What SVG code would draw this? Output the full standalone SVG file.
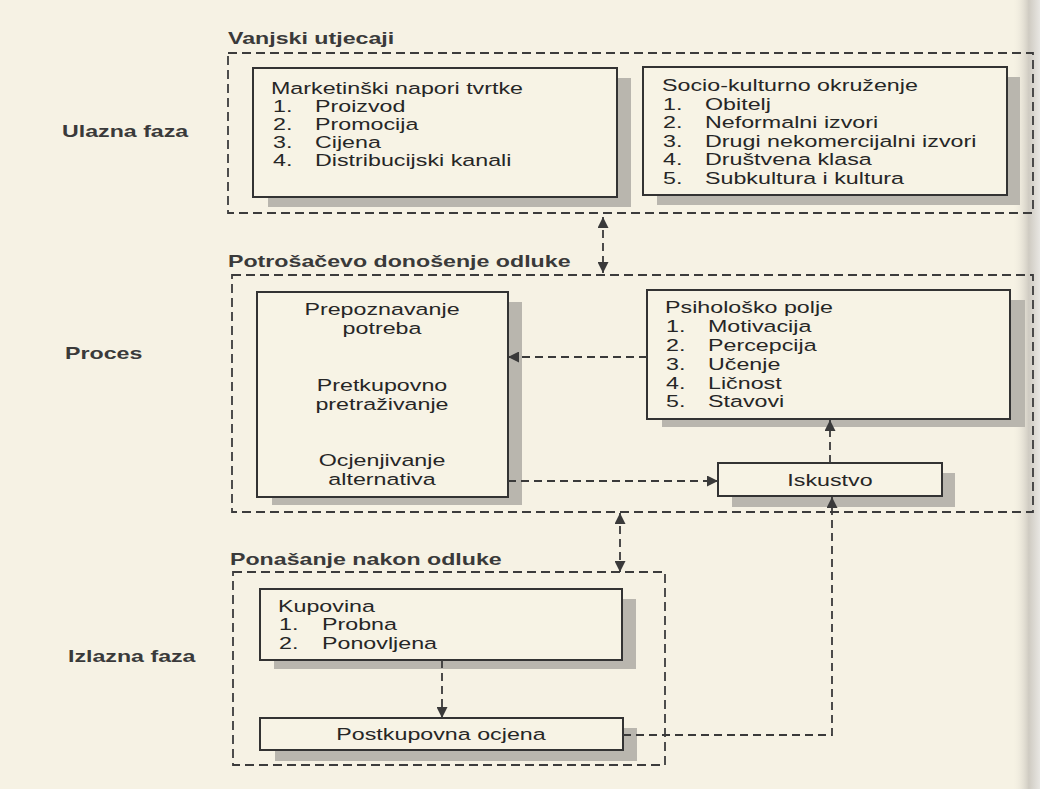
<svg xmlns="http://www.w3.org/2000/svg" width="1040" height="789" viewBox="0 0 1040 789">
<defs>
<linearGradient id="bind" x1="0" y1="0" x2="1" y2="0">
<stop offset="0" stop-color="#f6f2e4" stop-opacity="0"/>
<stop offset="0.6" stop-color="#cfcbc2"/>
<stop offset="1" stop-color="#e8e6e2"/>
</linearGradient>
<marker id="ah" viewBox="0 0 10 10" refX="10" refY="5" markerWidth="11" markerHeight="11" markerUnits="userSpaceOnUse" orient="auto-start-reverse">
<path d="M0,0 L10,5 L0,10 Z" fill="#3a3a3a"/>
</marker>
<style>
.grp{fill:none;stroke:#3c3c3c;stroke-width:1.8;stroke-dasharray:9 5}
.box{fill:#f7f3e5;stroke:#333;stroke-width:2}
.sh{fill:#b9b6ae}
.t{font-family:"Liberation Sans",Arial,sans-serif;font-size:16.5px;fill:#262626}
.b{font-family:"Liberation Sans",Arial,sans-serif;font-size:16px;font-weight:bold;fill:#3a3a3a}
.con{fill:none;stroke:#3a3a3a;stroke-width:1.8;stroke-dasharray:8 5}
</style>
</defs>
<rect x="0" y="0" width="1040" height="789" fill="#f6f2e4"/>
<rect x="1012" y="0" width="28" height="789" fill="url(#bind)"/>

<g id="phase-labels">
<g transform="translate(62 137) scale(1.45 1)"><text class="b" x="0" y="0">Ulazna faza</text></g>
<g transform="translate(65 359) scale(1.45 1)"><text class="b" x="0" y="0">Proces</text></g>
<g transform="translate(68 662) scale(1.45 1)"><text class="b" x="0" y="0">Izlazna faza</text></g>
</g>

<g id="grp-vanjski">
<rect class="grp" x="228" y="53" width="805" height="160"/>
<g transform="translate(228 44) scale(1.45 1)"><text class="b" x="0" y="0">Vanjski utjecaji</text></g>
</g>

<g id="node-marketing">
<rect class="sh" x="268" y="78" width="363" height="129"/>
<rect class="box" x="253" y="68" width="364" height="129"/>
<g transform="translate(271 94) scale(1.41 1)"><text class="t" x="0" y="0">Marketinški napori tvrtke</text></g>
<g transform="translate(273 112) scale(1.41 1)"><text class="t" x="0" y="0">1.</text></g>
<g transform="translate(315 112) scale(1.41 1)"><text class="t" x="0" y="0">Proizvod</text></g>
<g transform="translate(273 130) scale(1.41 1)"><text class="t" x="0" y="0">2.</text></g>
<g transform="translate(315 130) scale(1.41 1)"><text class="t" x="0" y="0">Promocija</text></g>
<g transform="translate(273 148) scale(1.41 1)"><text class="t" x="0" y="0">3.</text></g>
<g transform="translate(315 148) scale(1.41 1)"><text class="t" x="0" y="0">Cijena</text></g>
<g transform="translate(273 166) scale(1.41 1)"><text class="t" x="0" y="0">4.</text></g>
<g transform="translate(315 166) scale(1.41 1)"><text class="t" x="0" y="0">Distribucijski kanali</text></g>
</g>

<g id="node-socio">
<rect class="sh" x="657" y="77" width="363" height="128"/>
<rect class="box" x="643" y="67" width="364" height="128"/>
<g transform="translate(662 91) scale(1.41 1)"><text class="t" x="0" y="0">Socio-kulturno okruženje</text></g>
<g transform="translate(663 110) scale(1.41 1)"><text class="t" x="0" y="0">1.</text></g>
<g transform="translate(705 110) scale(1.41 1)"><text class="t" x="0" y="0">Obitelj</text></g>
<g transform="translate(663 128) scale(1.41 1)"><text class="t" x="0" y="0">2.</text></g>
<g transform="translate(705 128) scale(1.41 1)"><text class="t" x="0" y="0">Neformalni izvori</text></g>
<g transform="translate(663 147) scale(1.41 1)"><text class="t" x="0" y="0">3.</text></g>
<g transform="translate(705 147) scale(1.41 1)"><text class="t" x="0" y="0">Drugi nekomercijalni izvori</text></g>
<g transform="translate(663 165) scale(1.41 1)"><text class="t" x="0" y="0">4.</text></g>
<g transform="translate(705 165) scale(1.41 1)"><text class="t" x="0" y="0">Društvena klasa</text></g>
<g transform="translate(663 184) scale(1.41 1)"><text class="t" x="0" y="0">5.</text></g>
<g transform="translate(705 184) scale(1.41 1)"><text class="t" x="0" y="0">Subkultura i kultura</text></g>
</g>

<g id="grp-proces">
<rect class="grp" x="232" y="275" width="801" height="237"/>
<g transform="translate(228 267) scale(1.45 1)"><text class="b" x="0" y="0">Potrošačevo donošenje odluke</text></g>
</g>

<g id="node-odluka">
<rect class="sh" x="272" y="302" width="250" height="203"/>
<rect class="box" x="257" y="292" width="251" height="205"/>
<g transform="translate(382 315) scale(1.41 1)"><text class="t" x="0" y="0" text-anchor="middle">Prepoznavanje</text></g>
<g transform="translate(382 334) scale(1.41 1)"><text class="t" x="0" y="0" text-anchor="middle">potreba</text></g>
<g transform="translate(382 391) scale(1.41 1)"><text class="t" x="0" y="0" text-anchor="middle">Pretkupovno</text></g>
<g transform="translate(382 410) scale(1.41 1)"><text class="t" x="0" y="0" text-anchor="middle">pretraživanje</text></g>
<g transform="translate(382 466) scale(1.41 1)"><text class="t" x="0" y="0" text-anchor="middle">Ocjenjivanje</text></g>
<g transform="translate(382 485) scale(1.41 1)"><text class="t" x="0" y="0" text-anchor="middle">alternativa</text></g>
</g>

<g id="node-psiholosko">
<rect class="sh" x="662" y="300" width="363" height="127"/>
<rect class="box" x="647" y="290" width="363" height="129"/>
<g transform="translate(665 313) scale(1.41 1)"><text class="t" x="0" y="0">Psihološko polje</text></g>
<g transform="translate(666 332) scale(1.41 1)"><text class="t" x="0" y="0">1.</text></g>
<g transform="translate(708 332) scale(1.41 1)"><text class="t" x="0" y="0">Motivacija</text></g>
<g transform="translate(666 351) scale(1.41 1)"><text class="t" x="0" y="0">2.</text></g>
<g transform="translate(708 351) scale(1.41 1)"><text class="t" x="0" y="0">Percepcija</text></g>
<g transform="translate(666 370) scale(1.41 1)"><text class="t" x="0" y="0">3.</text></g>
<g transform="translate(708 370) scale(1.41 1)"><text class="t" x="0" y="0">Učenje</text></g>
<g transform="translate(666 389) scale(1.41 1)"><text class="t" x="0" y="0">4.</text></g>
<g transform="translate(708 389) scale(1.41 1)"><text class="t" x="0" y="0">Ličnost</text></g>
<g transform="translate(666 407) scale(1.41 1)"><text class="t" x="0" y="0">5.</text></g>
<g transform="translate(708 407) scale(1.41 1)"><text class="t" x="0" y="0">Stavovi</text></g>
</g>

<g id="node-iskustvo">
<rect class="sh" x="732" y="473" width="223" height="34"/>
<rect class="box" x="718" y="463" width="224" height="33"/>
<g transform="translate(830 486) scale(1.41 1)"><text class="t" x="0" y="0" text-anchor="middle">Iskustvo</text></g>
</g>

<g id="grp-ponasanje">
<rect class="grp" x="233" y="572" width="432" height="193"/>
<g transform="translate(230 565) scale(1.45 1)"><text class="b" x="0" y="0">Ponašanje nakon odluke</text></g>
</g>

<g id="node-kupovina">
<rect class="sh" x="274" y="599" width="362" height="70"/>
<rect class="box" x="260" y="589" width="362" height="71"/>
<g transform="translate(278 612) scale(1.41 1)"><text class="t" x="0" y="0">Kupovina</text></g>
<g transform="translate(279 630) scale(1.41 1)"><text class="t" x="0" y="0">1.</text></g>
<g transform="translate(322 630) scale(1.41 1)"><text class="t" x="0" y="0">Probna</text></g>
<g transform="translate(279 649) scale(1.41 1)"><text class="t" x="0" y="0">2.</text></g>
<g transform="translate(322 649) scale(1.41 1)"><text class="t" x="0" y="0">Ponovljena</text></g>
</g>

<g id="node-postkupovna">
<rect class="sh" x="275" y="728" width="362" height="33"/>
<rect class="box" x="260" y="718" width="363" height="32"/>
<g transform="translate(441 740) scale(1.41 1)"><text class="t" x="0" y="0" text-anchor="middle">Postkupovna ocjena</text></g>
</g>

<g id="connectors">
<path class="con" d="M603,217 L603,273" marker-start="url(#ah)" marker-end="url(#ah)"/>
<path class="con" d="M647,357 L508,357" marker-end="url(#ah)"/>
<path class="con" d="M508,481 L718,481" marker-end="url(#ah)"/>
<path class="con" d="M830,463 L830,420" marker-end="url(#ah)"/>
<path class="con" d="M620,513 L620,572" marker-start="url(#ah)" marker-end="url(#ah)"/>
<path class="con" d="M442,660 L442,718" marker-end="url(#ah)"/>
<path class="con" d="M623,735 L832,735 L832,497" marker-end="url(#ah)"/>
</g>
</svg>
